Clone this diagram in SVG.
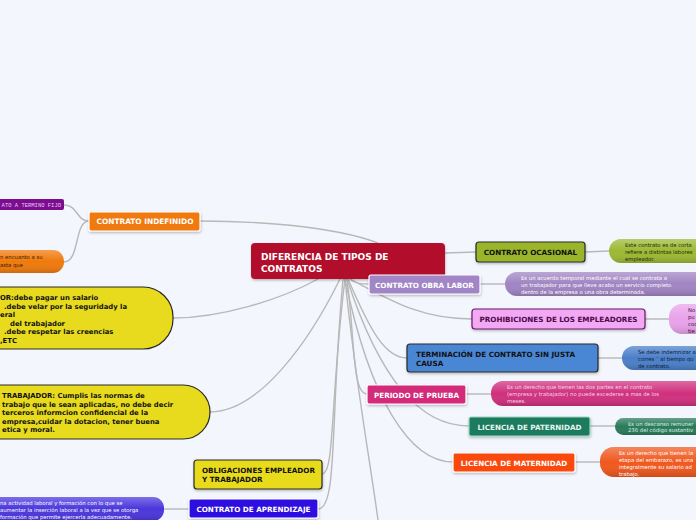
<svg xmlns="http://www.w3.org/2000/svg" width="696" height="520" viewBox="0 0 696 520">
<defs>
<linearGradient id="gloss" x1="0" y1="0" x2="0" y2="1">
<stop offset="0" stop-color="#ffffff" stop-opacity="0.28"/>
<stop offset="0.5" stop-color="#ffffff" stop-opacity="0"/>
<stop offset="1" stop-color="#000000" stop-opacity="0.15"/>
</linearGradient>
<filter id="sh" x="-10%" y="-20%" width="120%" height="150%">
<feDropShadow dx="0.5" dy="1.5" stdDeviation="1" flood-color="#000" flood-opacity="0.25"/>
</filter>
</defs>
<style>
.bg{fill:#f3f6fd}
.ln{fill:none;stroke:#b8b8b8;stroke-width:1.4}
.t{font-family:"DejaVu Sans",Verdana,sans-serif;font-weight:bold;font-size:7.2px}
.tc{text-anchor:middle}
.s{font-family:"DejaVu Sans",Verdana,sans-serif;font-size:5.3px}
.y{font-family:"DejaVu Sans",Verdana,sans-serif;font-weight:bold;font-size:6.85px;fill:#111}
.w{fill:#fff}
.k{fill:#111}
.nb{stroke:#fff;stroke-width:1.2}
.nd{stroke:#2a2a2a;stroke-width:1.2}
</style>
<rect class="bg" x="0" y="0" width="696" height="520"/>
<g id="connectors">
<path class="ln" d="M378,243 C330,225 250,221 200,221"/>
<path class="ln" d="M89,221 C76,221 78,205 64,205"/>
<path class="ln" d="M89,221 C74,221 80,262 64,262"/>
<path class="ln" d="M445,253 L476,252"/>
<path class="ln" d="M585,252 L609,251"/>
<path class="ln" d="M350,279 C355,284 362,284 369,284"/>
<path class="ln" d="M480,284 L505,284"/>
<path class="ln" d="M350,279 C390,300 420,319 472,319"/>
<path class="ln" d="M645,319 L669,319"/>
<path class="ln" d="M348,279 C370,330 385,358 407,358"/>
<path class="ln" d="M598,358 L622,358"/>
<path class="ln" d="M347,279 C355,340 352,394 367,394"/>
<path class="ln" d="M466,394 L491,394"/>
<path class="ln" d="M347,279 C380,380 420,426 469,426"/>
<path class="ln" d="M590,426 L615,426"/>
<path class="ln" d="M345,279 C370,400 410,462 453,462"/>
<path class="ln" d="M575,462 L600,462"/>
<path class="ln" d="M345,279 C330,400 335,474 322,474"/>
<path class="ln" d="M343,279 C330,420 338,509 318,509"/>
<path class="ln" d="M345,279 C355,380 370,460 378,520"/>
<path class="ln" d="M318,279 C280,300 220,318 173,318"/>
<path class="ln" d="M340,279 C310,340 260,412 210,412"/>
<path class="ln" d="M189,509 L164,509"/>
</g>
<g id="central">
<rect x="251" y="243" width="194" height="36" rx="4" fill="#b20c2c" filter="url(#sh)"/>
<text class="t w" style="font-size:9px" x="261" y="260">DIFERENCIA DE TIPOS DE</text>
<text class="t w" style="font-size:9px" x="261" y="271.5">CONTRATOS</text>
</g>
<g id="indefinido">
<rect class="nb" x="89" y="212" width="111" height="19" rx="2" fill="#f07a0c" filter="url(#sh)"/>
<text class="t w tc" x="145" y="224" style="font-size:7.4px">CONTRATO INDEFINIDO</text>
</g>
<g id="termino-fijo">
<rect x="-10" y="199" width="74" height="11" rx="2" fill="#7a0e8f"/>
<text x="61" y="207" text-anchor="end" style="font-family:'Liberation Mono','DejaVu Sans Mono',monospace;font-size:5.5px" fill="#eac8f2">ATO A TERMINO FIJO</text>
</g>
<g id="indefinido-desc">
<rect x="-20" y="250" width="84" height="23" rx="11" fill="#f07a0c"/>
<rect x="-20" y="250" width="84" height="23" rx="11" fill="url(#gloss)"/>
<text class="s" fill="#3a1a00" x="0" y="259">n encuanto a su</text>
<text class="s" fill="#3a1a00" x="0" y="267">asta que</text>
</g>
<g id="empleador">
<rect class="nd" x="-40" y="287" width="213" height="62" rx="30" fill="#e8db1e"/>
<text class="y" x="0" y="300">OR:debe pagar un salario</text>
<text class="y" x="4" y="308.5">.debe velar por la seguridady la</text>
<text class="y" x="0" y="317">eral</text>
<text class="y" x="10" y="325.5">del trabajador</text>
<text class="y" x="4" y="334">.debe respetar las creencias</text>
<text class="y" x="0" y="342.5">,ETC</text>
</g>
<g id="trabajador">
<rect class="nd" x="-40" y="385" width="250" height="54" rx="27" fill="#e8db1e"/>
<text class="y" x="2" y="398">TRABAJADOR: Cumplis las normas de</text>
<text class="y" x="2" y="406.5">trabajo que le sean aplicadas, no debe decir</text>
<text class="y" x="2" y="415">terceros informcion confidencial de la</text>
<text class="y" x="2" y="423.5">empresa,cuidar la dotacion, tener buena</text>
<text class="y" x="2" y="432">etica y moral.</text>
</g>
<g id="obligaciones">
<rect class="nd" x="194" y="460" width="128" height="29" rx="3" fill="#e8db1e" filter="url(#sh)"/>
<text class="t k" x="202" y="473">OBLIGACIONES EMPLEADOR</text>
<text class="t k" x="202" y="482"> Y TRABAJADOR</text>
</g>
<g id="aprendizaje">
<rect class="nb" x="189" y="499" width="129" height="19" rx="2" fill="#2f10e0" filter="url(#sh)"/>
<text class="t w tc" x="253.5" y="511.5">CONTRATO DE APRENDIZAJE</text>
</g>
<g id="aprendizaje-desc">
<rect x="-20" y="497" width="184" height="24" rx="11" fill="#4a36dc"/>
<rect x="-20" y="497" width="184" height="24" rx="11" fill="url(#gloss)"/>
<text class="s w" x="0" y="504.5">na actividad laboral y formación con lo que se</text>
<text class="s w" x="0" y="511.5">aumentar la inserción laboral a la vez que se otorga</text>
<text class="s w" x="0" y="518.5">formación que permite ejercerla adecuadamente.</text>
</g>
<g id="ocasional">
<rect class="nd" x="476" y="242" width="109" height="20" rx="3" fill="#9ab52a" filter="url(#sh)"/>
<text class="t k tc" x="530.5" y="254.5">CONTRATO OCASIONAL</text>
</g>
<g id="ocasional-desc">
<rect x="609" y="239" width="110" height="24" rx="12" fill="#9cb934"/>
<rect x="609" y="239" width="110" height="24" rx="12" fill="url(#gloss)"/>
<text class="s" fill="#1e2a00" x="625" y="246.5">Este contrato es de corta</text>
<text class="s" fill="#1e2a00" x="625" y="253.5">refiere a distintas labores</text>
<text class="s" fill="#1e2a00" x="625" y="260.5">empleador.</text>
</g>
<g id="obra-labor">
<rect class="nb" x="369" y="275" width="111" height="19" rx="2" fill="#a285c6" filter="url(#sh)"/>
<text class="t w tc" x="424.5" y="287.5">CONTRATO OBRA LABOR</text>
</g>
<g id="obra-labor-desc">
<rect x="505" y="272" width="210" height="24" rx="12" fill="#a084c2"/>
<rect x="505" y="272" width="210" height="24" rx="12" fill="url(#gloss)"/>
<text class="s w" x="521" y="279.5">Es un acuerdo temporal mediante el cual se contrata a</text>
<text class="s w" x="521" y="286.5">un trabajador para que lleve acabo un servicio completo</text>
<text class="s w" x="521" y="293.5">dentro de la empresa o una obra determinada.</text>
</g>
<g id="prohibiciones">
<rect x="472" y="309" width="173" height="20" rx="3" fill="#f2a8f2" stroke="#6a1a6a" stroke-width="1.2" filter="url(#sh)"/>
<text class="t tc" fill="#4a0a4a" x="558.5" y="321.5">PROHIBICIONES DE LOS EMPLEADORES</text>
</g>
<g id="prohibiciones-desc">
<rect x="669" y="304" width="60" height="30" rx="13" fill="#e8a2ea"/>
<rect x="669" y="304" width="60" height="30" rx="13" fill="url(#gloss)"/>
<text class="s" fill="#3a0a3a" x="688" y="311.5">No</text>
<text class="s" fill="#3a0a3a" x="688" y="318.5">pu</text>
<text class="s" fill="#3a0a3a" x="688" y="325.5">coo</text>
<text class="s" fill="#3a0a3a" x="688" y="332.5">tie</text>
</g>
<g id="terminacion">
<rect class="nd" x="407" y="344" width="191" height="28" rx="3" fill="#4a86d4" filter="url(#sh)"/>
<text class="t k" x="416" y="357">TERMINACIÓN DE CONTRATO SIN JUSTA</text>
<text class="t k" x="416" y="366">CAUSA</text>
</g>
<g id="terminacion-desc">
<rect x="622" y="346" width="100" height="24" rx="12" fill="#4a7fc8"/>
<rect x="622" y="346" width="100" height="24" rx="12" fill="url(#gloss)"/>
<text class="s" fill="#0a1a3a" x="638" y="353.5">Se debe indemnizar a</text>
<text class="s" fill="#0a1a3a" x="638" y="360.5">corres ´ al tiempo qu</text>
<text class="s" fill="#0a1a3a" x="638" y="367.5">de contrato.</text>
</g>
<g id="periodo">
<rect class="nb" x="367" y="385" width="99" height="19" rx="2" fill="#d42a7a" filter="url(#sh)"/>
<text class="t w tc" x="416.5" y="397.5">PERIODO DE PRUEBA</text>
</g>
<g id="periodo-desc">
<rect x="491" y="381" width="220" height="25" rx="12" fill="#d0307e"/>
<rect x="491" y="381" width="220" height="25" rx="12" fill="url(#gloss)"/>
<text class="s" fill="#f6d8e8" x="507" y="388.5">Es un derecho que tienen las dos partes en el contrato</text>
<text class="s" fill="#f6d8e8" x="507" y="395.5">(empresa y trabajador) no puede excederse a mas de los</text>
<text class="s" fill="#f6d8e8" x="507" y="402.5">meses.</text>
</g>
<g id="paternidad">
<rect x="469" y="417" width="121" height="19" rx="2" fill="#1e7a5e" stroke="#9cd8c0" stroke-width="1.2" filter="url(#sh)"/>
<text class="t tc" fill="#e6f4ee" x="529.5" y="429.5">LICENCIA DE PATERNIDAD</text>
</g>
<g id="paternidad-desc">
<rect x="615" y="418" width="100" height="17" rx="8.5" fill="#2a7a5a"/>
<rect x="615" y="418" width="100" height="17" rx="8.5" fill="url(#gloss)"/>
<text class="s" fill="#d8eee4" x="628" y="425.5">Es un  descanso remuner</text>
<text class="s" fill="#d8eee4" x="628" y="431.5">236 del código sustantiv</text>
</g>
<g id="maternidad">
<rect class="nb" x="453" y="453" width="122" height="19" rx="2" fill="#fa4a0c" filter="url(#sh)"/>
<text class="t w tc" x="514" y="465.5">LICENCIA DE MATERNIDAD</text>
</g>
<g id="maternidad-desc">
<rect x="600" y="447" width="110" height="30" rx="14" fill="#f0581e"/>
<rect x="600" y="447" width="110" height="30" rx="14" fill="url(#gloss)"/>
<text class="s w" x="619" y="454.5">Es un derecho que tienen la</text>
<text class="s w" x="619" y="461.5">etapa del embarazo, es una</text>
<text class="s w" x="619" y="468.5">integralmente su salario ad</text>
<text class="s w" x="619" y="475.5">trabajo.</text>
</g>
</svg>
